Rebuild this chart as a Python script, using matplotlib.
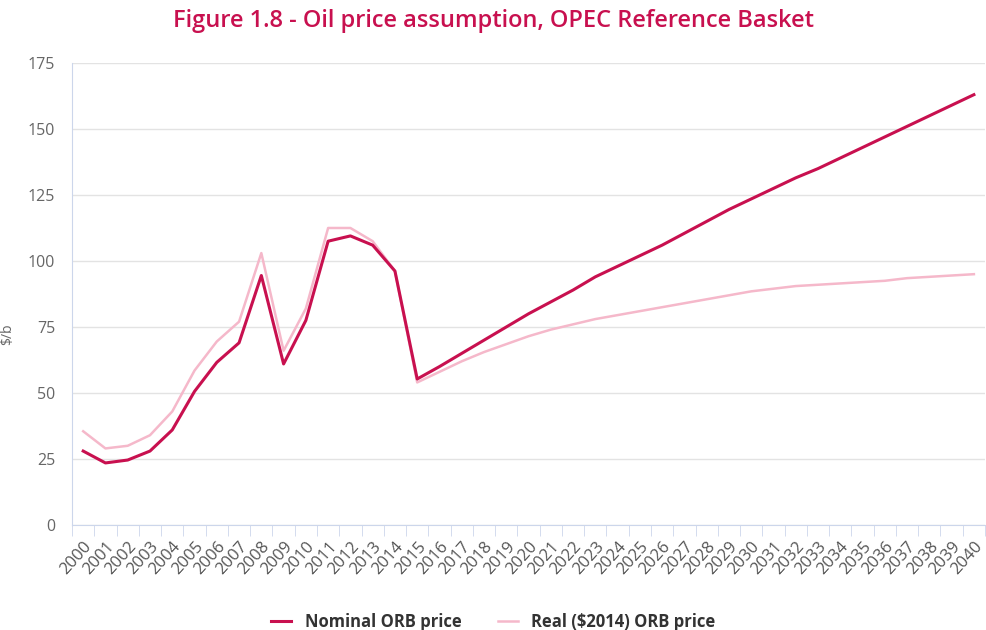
import numpy as np
import matplotlib.pyplot as plt
from matplotlib.ticker import FixedLocator

# Datos
years = [str(y) for y in range(2000, 2041)]
nominal = [28, 23.5, 24.6, 28, 36, 50.6, 61.6, 69, 94.5, 61, 77.5, 107.5, 109.5, 106, 96.2,
           55.3, 60, 65, 70, 75, 80, 84.5, 89, 94, 98, 102, 106, 110.5, 115, 119.5,
           123.5, 127.5, 131.5, 135, 139, 143, 147, 151, 155, 159, 163]
real = [35.5, 29, 30, 34, 43, 58.5, 69.5, 77, 103, 66, 82, 112.5, 112.5, 107.5, 96.2,
        54, 58, 62, 65.5, 68.5, 71.5, 74, 76, 78, 79.5, 81, 82.5, 84, 85.5, 87,
        88.5, 89.5, 90.5, 91, 91.5, 92, 92.5, 93.5, 94, 94.5, 95]
yticks = [0, 25, 50, 75, 100, 125, 150, 175]

plt.rcParams['font.family'] = ['Open Sans', 'DejaVu Sans']

fig = plt.figure(figsize=(9.87, 6.3), dpi=100)
ax = fig.add_axes([0.073, 0.1667, 0.925, 0.7333])

x = np.arange(len(years))
ax.plot(x, real, color='#f5b8ca', lw=1.8, label='Real ($2014) ORB price', zorder=3)
ax.plot(x, nominal, color='#c8104f', lw=2.2, label='Nominal ORB price', zorder=4)

ax.set_xlim(-0.5, len(years) - 0.5)
ax.set_ylim(0, 175)
ax.set_yticks(yticks)
ax.set_yticklabels([str(v) for v in yticks], fontsize=11.5, color='#666666')
ax.grid(axis='y', color='#e3e3e3', lw=1)
ax.set_axisbelow(True)

ax.set_xticks(x)
ax.set_xticklabels(years, rotation=48, ha='right', rotation_mode='anchor',
                   fontsize=12, color='#555555')
ax.tick_params(axis='x', length=0, pad=10)
ax.xaxis.set_minor_locator(FixedLocator(np.arange(-0.5, len(years), 1)))
ax.tick_params(axis='x', which='minor', length=8, color='#ccd6eb')
ax.tick_params(axis='y', length=0, pad=12)

for s in ['top', 'right']:
    ax.spines[s].set_visible(False)
ax.spines['left'].set_color('#ccd6eb')
ax.spines['bottom'].set_color('#ccd6eb')

fig.text(0.008, 0.47, '$/b', rotation=90, fontsize=10, color='#666666',
         ha='center', va='center')

fig.suptitle('Figure 1.8 - Oil price assumption, OPEC Reference Basket',
             x=0.5, y=0.985, fontsize=17, fontweight='semibold', color='#c8104f')

handles, labels = ax.get_legend_handles_labels()
leg = fig.legend(handles[::-1], labels[::-1], loc='lower center', ncol=2,
                 bbox_to_anchor=(0.5, -0.025), frameon=False, handlelength=1.2,
                 columnspacing=2.2, prop={'weight': 'bold', 'size': 12})
for t in leg.get_texts():
    t.set_color('#333333')

fig.savefig('out.png', dpi=100)
